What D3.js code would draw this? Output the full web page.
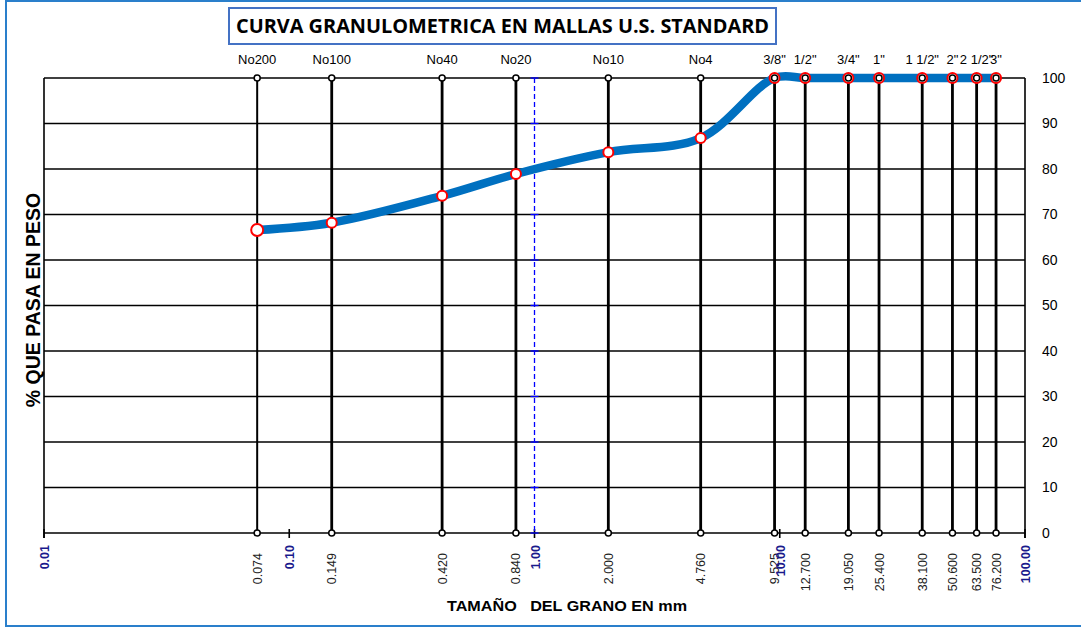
<!DOCTYPE html>
<html>
<head>
<meta charset="utf-8">
<script src="https://cdn.jsdelivr.net/npm/d3@7"></script>
<style>
  html, body { margin: 0; padding: 0; background: #fff; }
  svg { display: block; font-family: "Liberation Sans", Arial, sans-serif; }
</style>
</head>
<body>
<div id="chart"></div>
<script>
//Datos del ensayo
const sieveNames = ['No200', 'No100', 'No40', 'No20', 'No10', 'No4', '3/8"', '1/2"', '3/4"', '1"', '1 1/2"', '2"', '2 1/2"', '3"'];
const sieveSizes = [0.074, 0.149, 0.420, 0.840, 2.000, 4.760, 9.525, 12.700, 19.050, 25.400, 38.100, 50.600, 63.500, 76.200];
const sizeLabels = ['0.074', '0.149', '0.420', '0.840', '2.000', '4.760', '9.525', '12.700', '19.050', '25.400', '38.100', '50.600', '63.500', '76.200'];
const percentPassing = [66.6, 68.2, 74.1, 78.9, 83.7, 86.8, 100, 100, 100, 100, 100, 100, 100, 100];
const decadeValues = [0.01, 0.1, 1, 10, 100];
const decadeLabels = ['0.01', '0.10', '1.00', '10.00', '100.00'];
const yTicks = [0, 10, 20, 30, 40, 50, 60, 70, 80, 90, 100];

//Colores fijos
const COLOR_CURVE = '#0070c0',
COLOR_MARKER = '#ff0000',
COLOR_DECADE = '#1a1a8c',
COLOR_BORDER = '#2a7fcb';

let W = 1081, H = 629;
let svg = d3.select('#chart').append('svg')
    .attr('width', W)
    .attr('height', H);

//Marco exterior
svg.append('rect')
    .attr('x', 6).attr('y', 1)
    .attr('width', W + 10).attr('height', 625)
    .attr('fill', 'none')
    .attr('stroke', COLOR_BORDER)
    .attr('stroke-width', 2);

//Título
svg.append('rect')
    .attr('x', 229).attr('y', 8)
    .attr('width', 547).attr('height', 36)
    .attr('fill', '#fff')
    .attr('stroke', '#4472c4')
    .attr('stroke-width', 2);

svg.append('text')
    .attr('x', 236).attr('y', 33)
    .attr('textLength', 533)
    .attr('lengthAdjust', 'spacingAndGlyphs')
    .style('font-family', '"Open Sans", sans-serif')
    .style('font-weight', 700)
    .style('font-size', '20px')
    .text('CURVA GRANULOMETRICA EN MALLAS U.S. STANDARD');

let x = d3.scaleLog()
    .domain([0.01, 100])
    .range([44, 1025]);

let y = d3.scaleLinear()
    .domain([0, 100])
    .range([533, 78]);

//Líneas horizontales
svg.append('g')
    .selectAll('line')
    .data(yTicks)
    .enter()
    .append('line')
    .attr('x1', x(0.01)).attr('x2', x(100))
    .attr('y1', d => y(d)).attr('y2', d => y(d))
    .attr('stroke', '#000')
    .attr('stroke-width', 1.6);

//Bordes laterales
svg.append('g')
    .selectAll('line')
    .data([0.01, 100])
    .enter()
    .append('line')
    .attr('x1', d => x(d)).attr('x2', d => x(d))
    .attr('y1', y(100)).attr('y2', y(0) + 5)
    .attr('stroke', '#000')
    .attr('stroke-width', 1.6);

//Marcas de décadas
svg.append('g')
    .selectAll('line')
    .data(decadeValues)
    .enter()
    .append('line')
    .attr('x1', d => x(d)).attr('x2', d => x(d))
    .attr('y1', y(0) - 4).attr('y2', y(0) + 5)
    .attr('stroke', '#000')
    .attr('stroke-width', 1.6);

//Línea azul en 1.00 mm
svg.append('line')
    .attr('x1', x(1)).attr('x2', x(1))
    .attr('y1', y(100)).attr('y2', y(0))
    .attr('stroke', '#0000ff')
    .attr('stroke-width', 1.3)
    .attr('stroke-dasharray', '5,3');

svg.append('g')
    .selectAll('line')
    .data(yTicks)
    .enter()
    .append('line')
    .attr('x1', x(1) - 4).attr('x2', x(1) + 4)
    .attr('y1', d => y(d)).attr('y2', d => y(d))
    .attr('stroke', '#0000ff')
    .attr('stroke-width', 1.3);

//Tamices
let sieves = sieveSizes.map((s, i) => ({size: s, name: sieveNames[i], label: sizeLabels[i], value: percentPassing[i]}));

svg.append('g')
    .selectAll('line')
    .data(sieves)
    .enter()
    .append('line')
    .attr('x1', d => x(d.size)).attr('x2', d => x(d.size))
    .attr('y1', y(100)).attr('y2', y(0))
    .attr('stroke', '#000')
    .attr('stroke-width', (d, i) => i == 0 ? 2 : 2.8);

//Curva
let line = d3.line()
    .x(d => x(d.size))
    .y(d => y(d.value))
    .curve(d3.curveCatmullRom.alpha(0.5));

svg.append('path')
    .datum(sieves)
    .attr('d', line)
    .attr('fill', 'none')
    .attr('stroke', COLOR_CURVE)
    .attr('stroke-width', 8.5)
    .attr('stroke-linejoin', 'round');

svg.append('g')
    .selectAll('circle')
    .data(sieves)
    .enter()
    .append('circle')
    .attr('cx', d => x(d.size))
    .attr('cy', d => y(d.value))
    .attr('r', (d, i) => i == 0 ? 6 : 5)
    .attr('fill', '#fff')
    .attr('stroke', COLOR_MARKER)
    .attr('stroke-width', 2);

//Marcadores de los tamices arriba y abajo
svg.append('g')
    .selectAll('circle')
    .data(sieves.flatMap(d => [{size: d.size, v: 100}, {size: d.size, v: 0}]))
    .enter()
    .append('circle')
    .attr('cx', d => x(d.size))
    .attr('cy', d => y(d.v))
    .attr('r', 3)
    .attr('fill', '#fff')
    .attr('stroke', '#000')
    .attr('stroke-width', 1.5);

//Nombres de tamices
svg.append('g')
    .selectAll('text')
    .data(sieves)
    .enter()
    .append('text')
    .attr('x', d => x(d.size))
    .attr('y', 64)
    .attr('text-anchor', 'middle')
    .style('font-size', '13px')
    .style('white-space', 'pre')
    .text(d => d.name);

//Aberturas
svg.append('g')
    .selectAll('text')
    .data(sieves)
    .enter()
    .append('text')
    .attr('transform', d => 'translate(' + (x(d.size) + 4.5) + ',553) rotate(-90)')
    .attr('text-anchor', 'end')
    .style('font-size', '12.5px')
    .style('fill', '#222')
    .text(d => d.label);

//Décadas
svg.append('g')
    .selectAll('text')
    .data(decadeValues)
    .enter()
    .append('text')
    .attr('transform', d => 'translate(' + (x(d) + 5) + ',545) rotate(-90)')
    .attr('text-anchor', 'end')
    .style('font-size', '12.5px')
    .style('font-weight', 700)
    .style('fill', COLOR_DECADE)
    .text((d, i) => decadeLabels[i]);

//Eje derecho
let yAxis = function(g) {
    g.call(d3.axisRight(y).tickValues(yTicks).tickSize(0).tickPadding(0));
    g.call(function(g){g.select('.domain').remove()});
    g.call(function(g){
        g.selectAll('text')
            .style('font-family', '"Liberation Sans", Arial, sans-serif')
            .style('font-size', '14px')
            .style('fill', '#000');
    });
}

svg.append('g')
    .attr('transform', 'translate(1042,0)')
    .call(yAxis);

//Títulos de ejes
svg.append('text')
    .attr('transform', 'translate(40,300) rotate(-90)')
    .attr('text-anchor', 'middle')
    .style('font-size', '19.5px')
    .style('font-weight', 700)
    .text('% QUE PASA EN PESO');

svg.append('text')
    .attr('x', 567).attr('y', 611)
    .attr('text-anchor', 'middle')
    .attr('textLength', 240)
    .attr('lengthAdjust', 'spacingAndGlyphs')
    .style('font-size', '15.5px')
    .style('font-weight', 700)
    .style('white-space', 'pre')
    .text('TAMAÑO   DEL GRANO EN mm');
</script>
</body>
</html>
